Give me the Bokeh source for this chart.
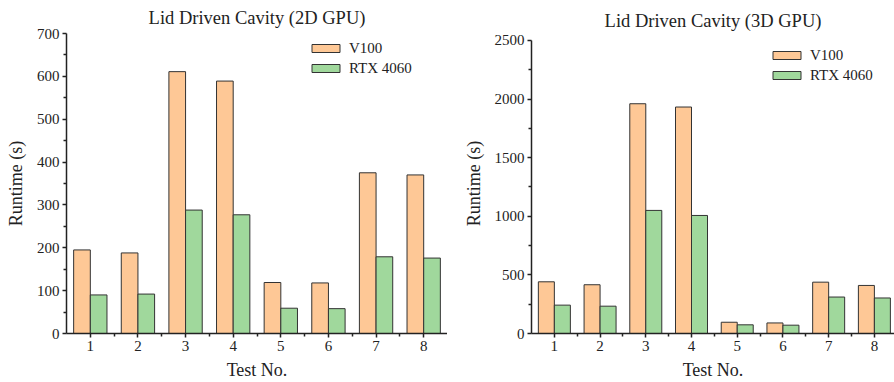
from bokeh.plotting import figure
from bokeh.layouts import row
from bokeh.models import Range1d, FixedTicker, Legend, LegendItem, ColumnDataSource
from bokeh.transform import dodge
from bokeh.embed import file_html
from bokeh.resources import INLINE

tests = [1, 2, 3, 4, 5, 6, 7, 8]
tick_labels = ["1", "2", "3", "4", "5", "6", "7", "8"]
v100_2d = [195, 188, 611, 589, 119, 118, 375, 370]
rtx_2d = [90, 92, 288, 277, 59, 58, 179, 176]
v100_3d = [441, 416, 1960, 1932, 96, 90, 438, 410]
rtx_3d = [242, 233, 1050, 1007, 74, 71, 311, 303]
y_ticks_2d = [0, 100, 200, 300, 400, 500, 600, 700]
y_ticks_3d = [0, 500, 1000, 1500, 2000, 2500]
series_names = ["V100", "RTX 4060"]

FONT = "Liberation Serif"
ORANGE = "#FEC896"
GREEN = "#A0D89C"
EDGE = "#333333"
BAR_W = 0.35


def make(title, v100, rtx, yticks, y_top_pad, width, x_end, b_left, leg_loc,
         title_standoff, title_valign):
    y_end = yticks[-1] * (1 + y_top_pad)
    p = figure(width=width, height=382, output_backend="svg", toolbar_location=None,
               x_range=Range1d(0.5, x_end), y_range=Range1d(yticks[0], y_end),
               min_border_left=b_left, min_border_top=33, min_border_bottom=48,
               min_border_right=0)
    p.title.text = title
    p.title.align = "center"
    p.title.vertical_align = title_valign
    p.title.standoff = title_standoff
    p.title.text_font = FONT
    p.title.text_font_size = "18.5px"
    p.title.text_font_style = "normal"
    p.title.text_color = "#222222"
    p.outline_line_color = None
    p.xgrid.visible = False
    p.ygrid.visible = False

    src = ColumnDataSource(dict(x=tests, v=v100, r=rtx))
    r1 = p.vbar(x=dodge("x", -BAR_W / 2), top="v", width=BAR_W, source=src,
                fill_color=ORANGE, line_color=EDGE, line_width=1)
    r2 = p.vbar(x=dodge("x", BAR_W / 2), top="r", width=BAR_W, source=src,
                fill_color=GREEN, line_color=EDGE, line_width=1)

    step = yticks[1] - yticks[0]
    p.yaxis.ticker = FixedTicker(ticks=yticks, minor_ticks=[t + step / 2 for t in yticks[:-1]])
    p.yaxis.bounds = (yticks[0], yticks[-1])
    p.xaxis.ticker = FixedTicker(ticks=tests, minor_ticks=[t + 0.5 for t in tests[:-1]])
    p.xaxis.major_label_overrides = {t: l for t, l in zip(tests, tick_labels)}

    for ax in (p.xaxis[0], p.yaxis[0]):
        ax.axis_line_width = 1.5
        ax.axis_line_color = "#222222"
        ax.major_tick_line_color = "#222222"
        ax.minor_tick_line_color = "#222222"
        ax.major_tick_line_width = 1.5
        ax.minor_tick_line_width = 1.5
        ax.major_tick_out = 4
        ax.major_tick_in = 0
        ax.minor_tick_out = 3
        ax.minor_tick_in = 0
        ax.major_label_text_font = FONT
        ax.major_label_text_font_size = "15px"
        ax.major_label_text_color = "#222222"
        ax.axis_label_text_font = FONT
        ax.axis_label_text_font_size = "18px"
        ax.axis_label_text_font_style = "normal"
        ax.axis_label_text_color = "#222222"
        ax.major_label_standoff = 3
    p.xaxis.axis_label = "Test No."
    p.yaxis.axis_label = "Runtime (s)"
    p.xaxis.axis_label_standoff = 6
    p.yaxis.axis_label_standoff = 8

    legend = Legend(items=[LegendItem(label=series_names[0], renderers=[r1]),
                           LegendItem(label=series_names[1], renderers=[r2])],
                    location=leg_loc, glyph_width=35, glyph_height=10,
                    label_height=20, label_width=75, spacing=0, padding=0, margin=0,
                    label_standoff=6,
                    label_text_font=FONT, label_text_font_size="15px",
                    label_text_color="#222222",
                    background_fill_alpha=0, border_line_color=None)
    p.add_layout(legend)
    return p


p1 = make("Lid Driven Cavity (2D GPU)", v100_2d, rtx_2d, y_ticks_2d, 0.0,
          447, 8.5, 66, (242, 255), 8, "top")
p2 = make("Lid Driven Cavity (3D GPU)", v100_3d, rtx_3d, y_ticks_3d, 0.0237,
          447, 8.44, 84, (238, 248), 6, "bottom")

layout = row(p1, p2)
open("out.html", "w").write(file_html(layout, INLINE))
